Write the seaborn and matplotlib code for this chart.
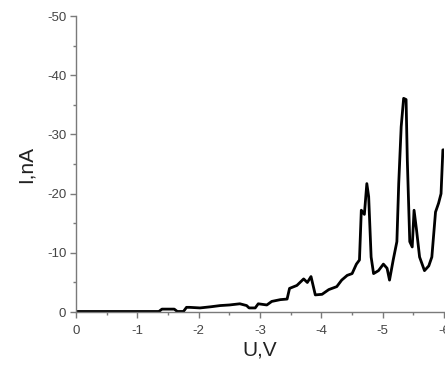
import matplotlib
matplotlib.use("Agg")
import matplotlib.pyplot as plt
from matplotlib.ticker import MultipleLocator
import seaborn as sns
import pandas as pd

# Current-voltage sweep: bias U (V) and measured current I (nA)
voltage = [0.0, -0.5, -1.0, -1.35, -1.4, -1.45, -1.6, -1.65, -1.75, -1.8, -1.85,
           -2.02, -2.2, -2.35, -2.5, -2.67, -2.78, -2.82, -2.92, -2.97, -3.11,
           -3.19, -3.33, -3.44, -3.48, -3.6, -3.71, -3.77, -3.83, -3.9, -4.01,
           -4.12, -4.25, -4.33, -4.42, -4.5, -4.57, -4.62, -4.65, -4.7, -4.74,
           -4.77, -4.81, -4.85, -4.93, -5.01, -5.07, -5.11, -5.17, -5.23, -5.26,
           -5.3, -5.34, -5.38, -5.4, -5.44, -5.48, -5.51, -5.55, -5.6, -5.68,
           -5.75, -5.8, -5.86, -5.91, -5.95, -5.98, -6.0]
current = [-0.1, -0.1, -0.1, -0.1, -0.5, -0.5, -0.5, -0.1, -0.1, -0.8, -0.8,
           -0.7, -0.9, -1.1, -1.2, -1.4, -1.1, -0.7, -0.7, -1.4, -1.2,
           -1.8, -2.1, -2.2, -4.0, -4.5, -5.6, -5.0, -6.0, -2.9, -3.0,
           -3.8, -4.3, -5.4, -6.2, -6.5, -8.1, -8.8, -17.2, -16.5, -21.7,
           -19.5, -9.3, -6.5, -7.0, -8.1, -7.4, -5.4, -8.8, -11.9, -21.7,
           -31.3, -36.1, -35.9, -25.7, -11.9, -11.0, -17.2, -13.9, -9.3, -7.0,
           -7.8, -9.3, -16.9, -18.4, -20.0, -27.4, -27.4]

df = pd.DataFrame({"U": voltage, "I": current})

sns.set_style("ticks")
plt.rcParams["font.family"] = ["Liberation Sans", "DejaVu Sans"]
plt.rcParams["axes.unicode_minus"] = False

fig = plt.figure(figsize=(4.45, 3.65), dpi=100)
ax = fig.add_axes([0.171, 0.145, 0.827, 0.811])

sns.lineplot(data=df, x="U", y="I", sort=False, color="black",
             linewidth=2.0, ax=ax)

ax.set_xlim(0, -6)
ax.set_ylim(0, -50)
ax.xaxis.set_major_locator(MultipleLocator(1))
ax.xaxis.set_minor_locator(MultipleLocator(0.5))
ax.yaxis.set_major_locator(MultipleLocator(10))
ax.yaxis.set_minor_locator(MultipleLocator(5))

spine_color = "#7a7a7a"
for side in ("top", "right"):
    ax.spines[side].set_visible(False)
for side in ("left", "bottom"):
    ax.spines[side].set_color(spine_color)
    ax.spines[side].set_linewidth(1.0)

ax.tick_params(which="major", direction="out", length=4, width=1.0,
               color=spine_color, labelsize=9.5, labelcolor="#444444")
ax.tick_params(axis="x", which="major", pad=5)
ax.tick_params(axis="y", which="major", pad=3)
ax.tick_params(which="minor", direction="out", length=2.5, width=1.0,
               color=spine_color)

ax.set_xlabel("U,V", fontsize=15, color="#222222", labelpad=3)
ax.set_ylabel("I,nA", fontsize=15, color="#222222", labelpad=8)

fig.savefig("out.png", dpi=100)
